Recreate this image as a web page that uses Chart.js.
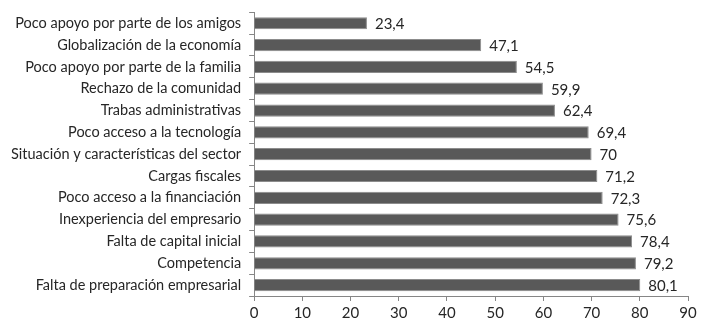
<!DOCTYPE html>
<html>
<head>
<meta charset="utf-8">
<script src="https://cdn.jsdelivr.net/npm/chart.js@4/dist/chart.umd.min.js"></script>
<style>
  html, body { margin: 0; padding: 0; background: #fff; }
  #wrap { width: 715px; height: 327px; }
</style>
</head>
<body>
<div id="wrap"><canvas id="grafica"></canvas></div>
<script>
const categorias = [
    'Poco apoyo por parte de los amigos',
    'Globalización de la economía',
    'Poco apoyo por parte de la familia',
    'Rechazo de la comunidad',
    'Trabas administrativas',
    'Poco acceso a la tecnología',
    'Situación y características del sector',
    'Cargas fiscales',
    'Poco acceso a la financiación',
    'Inexperiencia del empresario',
    'Falta de capital inicial',
    'Competencia',
    'Falta de preparación empresarial'
];

const valores = [23.4, 47.1, 54.5, 59.9, 62.4, 69.4, 70, 71.2, 72.3, 75.6, 78.4, 79.2, 80.1];

const ejeX = { min: 0, max: 90, paso: 10 };

// etiquetas de valor al final de cada barra (coma decimal)
const etiquetasValor = {
    id: 'etiquetasValor',
    afterDatasetsDraw(chart) {
        const ctx = chart.ctx;
        const meta = chart.getDatasetMeta(0);
        ctx.save();
        ctx.font = '15px Lato';
        ctx.fillStyle = '#262626';
        ctx.textAlign = 'left';
        ctx.textBaseline = 'middle';
        meta.data.forEach(function (bar, i) {
            const txt = String(valores[i]).replace('.', ',');
            ctx.fillText(txt, bar.x + 8, bar.y + 1);
        });
        ctx.restore();
    }
};

const config = {
    type: 'bar',
    data: {
        labels: categorias,
        datasets: [{
            data: valores,
            backgroundColor: '#595959',
            borderColor: '#8c8c8c',
            borderWidth: 1,
            barPercentage: 0.56,
            categoryPercentage: 1
        }]
    },
    options: {
        indexAxis: 'y',
        responsive: true,
        maintainAspectRatio: false,
        animation: false,
        layout: { padding: { top: 10, right: 27, bottom: 2, left: 3 } },
        plugins: {
            legend: { display: false },
            tooltip: { enabled: false }
        },
        scales: {
            x: {
                min: ejeX.min,
                max: ejeX.max,
                ticks: {
                    stepSize: ejeX.paso,
                    color: '#262626',
                    font: { family: 'Lato', size: 15 },
                    padding: 3
                },
                grid: {
                    drawOnChartArea: false,
                    drawTicks: true,
                    tickLength: 5,
                    color: '#868686'
                },
                border: { color: '#868686', width: 1 }
            },
            y: {
                ticks: {
                    color: '#262626',
                    font: { family: 'Lato', size: 14.5, lineHeight: 0.6 },
                    padding: 8
                },
                grid: {
                    offset: true,
                    drawOnChartArea: false,
                    drawTicks: true,
                    tickLength: 5,
                    color: '#868686'
                },
                border: { color: '#868686', width: 1 }
            }
        }
    },
    plugins: [etiquetasValor]
};

new Chart(document.getElementById('grafica').getContext('2d'), config);
</script>
</body>
</html>
